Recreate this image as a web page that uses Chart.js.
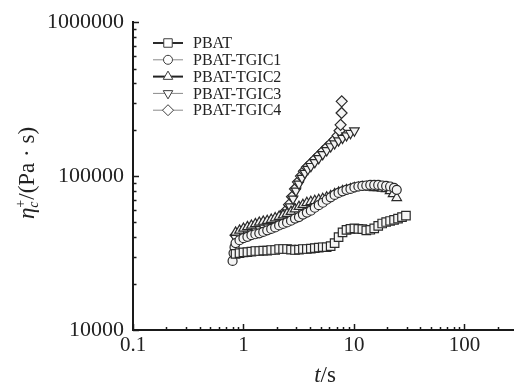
<!DOCTYPE html>
<html>
<head>
<meta charset="utf-8">
<script src="https://cdn.jsdelivr.net/npm/chart.js@4/dist/chart.umd.min.js"></script>
<style>
  html, body { margin: 0; padding: 0; background: #fff; }
</style>
</head>
<body>
<canvas id="chart" width="521" height="386"></canvas>
<script>
// series names
var names = ['PBAT', 'PBAT-TGIC1', 'PBAT-TGIC2', 'PBAT-TGIC3', 'PBAT-TGIC4'];

// t (s) and viscosity (Pa·s)
var tPBAT = [0.848, 0.921, 1.00, 1.086, 1.18, 1.281, 1.391, 1.511, 1.641, 1.783, 1.936, 2.103, 2.284, 2.48, 2.695, 2.927, 3.179, 3.452, 3.749, 4.072, 4.422, 4.804, 5.218, 5.667, 6.155, 6.685, 7.261, 7.886, 8.564, 9.302, 10.10, 10.97, 11.92, 12.94, 14.06, 15.27, 16.59, 18.02, 19.57, 21.25, 23.08, 25.07, 27.23, 29.57];
var yPBAT = [31200, 31600, 31900, 32100, 32300, 32600, 32600, 32800, 32800, 33100, 33100, 33600, 33600, 33600, 33300, 33100, 33300, 33600, 33600, 33800, 34000, 34300, 34500, 34500, 35100, 36700, 40100, 43100, 44700, 45400, 45700, 45400, 45200, 44400, 44800, 45700, 47500, 49200, 50300, 51100, 51900, 53000, 54200, 55400];

var tTGIC1 = [0.797, 0.813, 0.830, 0.848, 0.921, 1.00, 1.086, 1.18, 1.281, 1.391, 1.511, 1.641, 1.783, 1.936, 2.103, 2.284, 2.48, 2.695, 2.927, 3.179, 3.452, 3.749, 4.072, 4.422, 4.804, 5.218, 5.667, 6.155, 6.685, 7.261, 7.886, 8.564, 9.302, 10.10, 10.97, 11.92, 12.94, 14.06, 15.27, 16.59, 18.02, 19.57, 21.25, 23.08, 24.4];
var yTGIC1 = [28100, 31600, 34500, 36700, 38300, 39500, 40300, 41300, 41900, 42500, 43400, 44400, 45400, 46400, 47800, 48900, 50000, 51300, 53000, 54200, 56200, 57900, 59600, 62300, 64700, 67100, 70200, 72800, 75500, 77800, 79600, 81400, 82500, 84400, 85600, 86300, 86900, 87600, 87600, 87600, 86900, 86300, 85600, 83800, 81400];

var tTGIC2 = [0.848, 0.921, 1.00, 1.086, 1.18, 1.281, 1.391, 1.511, 1.641, 1.783, 1.936, 2.103, 2.284, 2.48, 2.695, 2.927, 3.179, 3.452, 3.749, 4.072, 4.422, 4.804, 5.218, 5.667, 6.155, 6.685, 7.261, 7.886, 8.564, 9.302, 10.10, 10.97, 11.92, 12.94, 14.06, 15.27, 16.59, 18.02, 19.57, 21.25, 22.61, 24.4];
var yTGIC2 = [43100, 44400, 45700, 46800, 47800, 48900, 50000, 50700, 51300, 52200, 53400, 54600, 55800, 57100, 58800, 61000, 63300, 65200, 67100, 68100, 69100, 70200, 71200, 72800, 74400, 76700, 78400, 80200, 81400, 82500, 83800, 84400, 85000, 85000, 84400, 83800, 83800, 83200, 82500, 80200, 76700, 72300];

var tTGIC3 = [0.848, 0.921, 1.00, 1.086, 1.18, 1.281, 1.391, 1.511, 1.641, 1.783, 1.936, 2.103, 2.284, 2.48, 2.64, 2.808, 2.988, 3.179, 3.382, 3.598, 3.828, 4.072, 4.422, 4.804, 5.218, 5.667, 6.155, 6.685, 7.261, 7.886, 8.564, 9.302, 10.10];
var yTGIC3 = [39500, 40700, 41600, 42500, 43400, 44400, 45400, 46400, 47500, 48500, 50000, 51300, 53800, 57900, 63300, 71200, 80200, 88900, 97100, 104500, 110900, 115900, 122900, 130400, 138400, 146800, 155700, 162700, 170100, 176500, 183400, 190000, 197200];

var tTGIC4 = [0.848, 0.921, 1.00, 1.086, 1.18, 1.281, 1.391, 1.511, 1.641, 1.783, 1.936, 2.103, 2.284, 2.43, 2.586, 2.751, 2.927, 3.113, 3.313, 3.525, 3.749, 4.072, 4.422, 4.804, 5.218, 5.667, 6.155, 6.685, 7.11, 7.41, 7.57, 7.73, 7.75];
var yTGIC4 = [41300, 42500, 43400, 44400, 45400, 46400, 47500, 48500, 49600, 50700, 52200, 53800, 56200, 59600, 65200, 73400, 82500, 91500, 100000, 107700, 114200, 121100, 128500, 136300, 144600, 153500, 162700, 172600, 183400, 197200, 215400, 257200, 306000];

var xTicks = [0.1, 1, 10, 100];
var yTicks = [10000, 100000, 1000000];

var serif = "'Liberation Serif', 'Times New Roman', serif";

function pts(t, y) {
  return t.map(function(v, i) { return { x: v, y: y[i] }; });
}

var styles = [
  { line: '#2b2b2b', lw: 2, shape: 'rect', r: 6, rot: 0 },
  { line: '#8a8a8a', lw: 1, shape: 'circle', r: 4.5, rot: 0 },
  { line: '#222222', lw: 2, shape: 'triangle', r: 5.5, rot: 0 },
  { line: '#8a8a8a', lw: 1, shape: 'triangle', r: 5.5, rot: 180 },
  { line: '#8a8a8a', lw: 1, shape: 'rectRot', r: 5.5, rot: 0 }
];
var series = [pts(tPBAT, yPBAT), pts(tTGIC1, yTGIC1), pts(tTGIC2, yTGIC2), pts(tTGIC3, yTGIC3), pts(tTGIC4, yTGIC4)];

var datasets = names.map(function(n, i) {
  var s = styles[i];
  return {
    label: n,
    data: series[i],
    borderColor: s.line,
    borderWidth: s.lw,
    pointStyle: s.shape,
    pointRadius: s.r,
    pointRotation: s.rot,
    pointBackgroundColor: '#f4f4f4',
    pointBorderColor: '#2a2a2a',
    pointBorderWidth: 1.2,
    tension: 0
  };
});

// inward tick marks, custom legend and axis titles
var decorations = {
  id: 'decorations',
  afterDraw: function(chart) {
    var ctx = chart.ctx;
    var xs = chart.scales.x, ys = chart.scales.y;
    var area = chart.chartArea;
    ctx.save();
    ctx.strokeStyle = '#1a1a1a';
    ctx.lineWidth = 1.5;
    var d, k, v, p;
    for (d = -1; d <= 3; d++) {
      for (k = 1; k <= 9; k++) {
        v = k * Math.pow(10, d);
        if (v < xs.min || v > xs.max) continue;
        p = Math.round(xs.getPixelForValue(v)) + 0.5;
        ctx.beginPath();
        ctx.moveTo(p, area.bottom);
        ctx.lineTo(p, area.bottom - (k === 1 ? 6 : 3));
        ctx.stroke();
      }
    }
    for (d = 4; d <= 6; d++) {
      for (k = 1; k <= 9; k++) {
        v = k * Math.pow(10, d);
        if (v < ys.min || v > ys.max) continue;
        p = Math.round(ys.getPixelForValue(v)) + 0.5;
        ctx.beginPath();
        ctx.moveTo(area.left, p);
        ctx.lineTo(area.left + (k === 1 ? 6 : 3.5), p);
        ctx.stroke();
      }
    }

    // legend
    ctx.font = '16px ' + serif;
    ctx.textBaseline = 'middle';
    ctx.textAlign = 'left';
    names.forEach(function(n, i) {
      var s = styles[i];
      var y = 43 + i * 16.8;
      ctx.strokeStyle = s.line;
      ctx.lineWidth = s.lw;
      ctx.beginPath();
      ctx.moveTo(153, y);
      ctx.lineTo(183, y);
      ctx.stroke();
      ctx.fillStyle = '#ffffff';
      ctx.strokeStyle = '#3c3c3c';
      ctx.lineWidth = 1;
      Chart.helpers.drawPoint(ctx, { pointStyle: s.shape, radius: s.r, rotation: s.rot, borderWidth: 1 }, 168, y);
      ctx.fillStyle = '#222';
      ctx.fillText(n, 193, y + 1);
    });

    // y title: eta with + superscript and c subscript
    ctx.translate(27, 173);
    ctx.rotate(-Math.PI / 2);
    ctx.fillStyle = '#222';
    ctx.textBaseline = 'alphabetic';
    var big = '23px ' + serif, bigIt = 'italic 23px ' + serif;
    var small = '14px ' + serif, smallIt = 'italic 14px ' + serif;
    var rest = '/(Pa · s)';
    ctx.font = bigIt; var w1 = ctx.measureText('η').width;
    ctx.font = small; var w2 = ctx.measureText('+').width;
    ctx.font = smallIt; var w3 = ctx.measureText('c').width;
    ctx.font = big; var w4 = ctx.measureText(rest).width;
    var ws = Math.max(w2, w3);
    var x0 = -(w1 + ws + w4) / 2, base = 7;
    ctx.font = bigIt; ctx.fillText('η', x0, base);
    ctx.font = small; ctx.fillText('+', x0 + w1, base - 9);
    ctx.font = smallIt; ctx.fillText('c', x0 + w1, base + 4);
    ctx.font = big; ctx.fillText(rest, x0 + w1 + ws, base);
    ctx.restore();

    // x title
    ctx.save();
    ctx.fillStyle = '#222';
    ctx.textBaseline = 'alphabetic';
    ctx.font = 'italic 23px ' + serif; var wt = ctx.measureText('t').width;
    ctx.font = '23px ' + serif; var wr = ctx.measureText('/s').width;
    var xx = 325 - (wt + wr) / 2;
    ctx.font = 'italic 23px ' + serif; ctx.fillText('t', xx, 382);
    ctx.font = '23px ' + serif; ctx.fillText('/s', xx + wt, 382);
    ctx.restore();
  }
};

new Chart(document.getElementById('chart'), {
  type: 'line',
  data: { datasets: datasets },
  options: {
    responsive: false,
    animation: false,
    events: [],
    layout: { padding: { top: 18, right: 4, left: 0, bottom: 0 } },
    plugins: { legend: { display: false }, tooltip: { enabled: false } },
    scales: {
      x: {
        type: 'logarithmic',
        min: 0.1,
        max: 280,
        afterBuildTicks: function(scale) { scale.ticks = xTicks.map(function(v) { return { value: v }; }); },
        afterFit: function(scale) { scale.height = 56; },
        ticks: {
          color: '#222',
          font: { family: serif, size: 21 },
          padding: 3,
          maxRotation: 0,
          autoSkip: false,
          callback: function(v) { return String(v); }
        },
        grid: { display: false, drawTicks: false },
        border: { display: true, color: '#1a1a1a', width: 2 }
      },
      y: {
        type: 'logarithmic',
        min: 10000,
        max: 1000000,
        afterBuildTicks: function(scale) { scale.ticks = yTicks.map(function(v) { return { value: v }; }); },
        afterFit: function(scale) { scale.width = 133; },
        ticks: {
          color: '#222',
          font: { family: serif, size: 22 },
          padding: 9,
          autoSkip: false,
          callback: function(v) { return String(v); }
        },
        grid: { display: false, drawTicks: false },
        border: { display: true, color: '#1a1a1a', width: 2 }
      }
    }
  },
  plugins: [decorations]
});
</script>
</body>
</html>
